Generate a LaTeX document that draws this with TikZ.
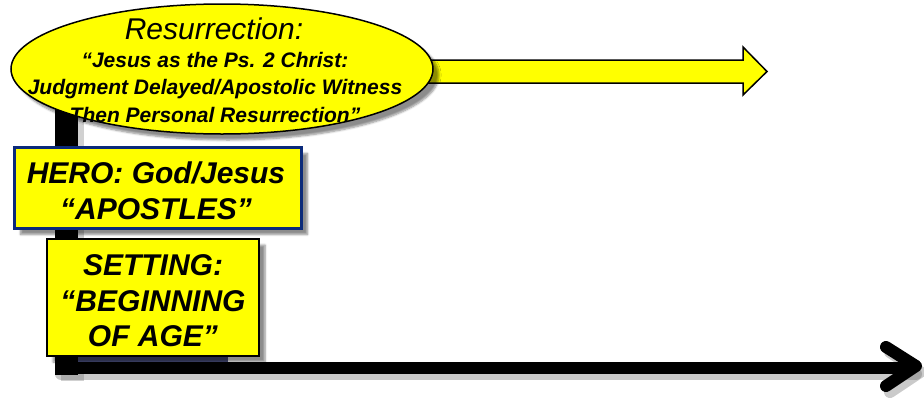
\documentclass[tikz,border=0pt]{standalone}
\usepackage{fontspec}
\setmainfont{Liberation Sans}
\usetikzlibrary{shapes.geometric,shadows.blur}
\definecolor{ylw}{HTML}{FFFF00}
\definecolor{navy}{HTML}{0B2A7A}
\definecolor{slate}{HTML}{4A5080}
\begin{document}
\begin{tikzpicture}[x=1pt,y=-1pt,
  sh/.style={blur shadow={shadow xshift=6pt,shadow yshift=-6pt,shadow blur steps=6,shadow opacity=45}},
  boxtext/.style={inner sep=0pt, align=center, font=\bfseries\itshape\fontsize{30}{35.5}\selectfont},
  ybox/.style={fill=ylw, inner sep=0pt, sh},
  shline/.style={draw=black!60, opacity=0.35, line width=12pt}]
\useasboundingbox (0,0) rectangle (924,400);
% timeline shadows
\fill[black!60, opacity=0.3] (61,106) rectangle (84,381);
\draw[shline, line cap=round, line join=round] (61,374) -- (916,374);
\draw[shline, line cap=round, line join=round] (890,352) -- (920,372) -- (890,392);
% timeline
\coordinate (tl0) at (55,368);
\coordinate (tip) at (916,366);
\coordinate (armA) at (886,347);
\coordinate (armB) at (886,386);
\fill[black] (55,100) rectangle (78,375);
\draw[black, line width=12pt] (tl0) -- (912,368);
\draw[black, line width=12pt, line cap=round, line join=round] (armA) -- (tip) -- (armB);
% yellow block arrow
\coordinate (ya) at (420,60);
\fill[ylw, draw=black, line width=1.5pt] (ya) -- (743,60) -- (743,47) -- (767,71.5) -- (743,95) -- (743,83) -- (420,83) -- cycle;
% ellipse
\node[ellipse, draw=black, line width=1.5pt, fill=ylw, minimum width=422pt, minimum height=130pt, sh] (res) at (222,69) {};
\node[inner sep=0pt, font=\itshape\fontsize{30}{30}\selectfont] (t1) at (214,29) {Resurrection:};
\node[inner sep=0pt, align=center, font=\bfseries\itshape\fontsize{21}{27.5}\selectfont] (t2) at (215,87) {“Jesus as the Ps. 2 Christ:\\Judgment Delayed/Apostolic Witness\\Then Personal Resurrection”};
% slate strip
\fill[slate] (78,356) rectangle (228,362);
% hero box
\node[ybox, draw=navy, line width=3pt, minimum width=287pt, minimum height=81pt] (hero) at (158,188) {};
\node[boxtext] (herot) at (156,191) {HERO: God/Jesus\\“APOSTLES”};
% setting box
\node[ybox, draw=black, line width=2pt, minimum width=212pt, minimum height=117pt] (set) at (153,297.5) {};
\node[boxtext] (sett) at (153,301) {SETTING:\\“BEGINNING\\OF AGE”};
\end{tikzpicture}
\end{document}
